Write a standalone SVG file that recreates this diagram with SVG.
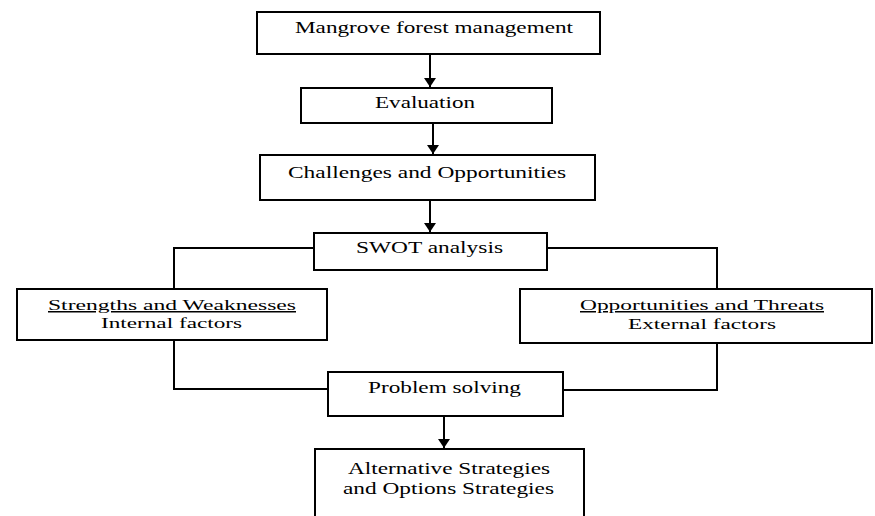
<svg xmlns="http://www.w3.org/2000/svg" width="875" height="516" viewBox="0 0 875 516">
<style>
.box{fill:#fff;stroke:#000;stroke-width:2}
.ln{fill:none;stroke:#000;stroke-width:2}
.t{font-family:"Liberation Serif","Times New Roman",serif;font-size:16px;fill:#000}
.s{font-size:15px}
.u{text-decoration:underline}
</style>
<defs>
<marker id="ah" markerUnits="userSpaceOnUse" markerWidth="10" markerHeight="12" refX="9" refY="6" orient="auto">
<path d="M0,0 L9,6 L0,12 z" fill="#000"/>
</marker>
</defs>
<rect width="875" height="516" fill="#fff"/>
<g id="connectors">
<line class="ln" x1="430" y1="54" x2="430" y2="87" marker-end="url(#ah)"/>
<line class="ln" x1="433" y1="123" x2="433" y2="154" marker-end="url(#ah)"/>
<line class="ln" x1="430" y1="200" x2="430" y2="232" marker-end="url(#ah)"/>
<polyline class="ln" points="314,248 174,248 174,289"/>
<polyline class="ln" points="547,248 717,248 717,289"/>
<polyline class="ln" points="174,340 174,389 328,389"/>
<polyline class="ln" points="717,343 717,390 563,390"/>
<line class="ln" x1="444" y1="416" x2="444" y2="448" marker-end="url(#ah)"/>
</g>
<g id="n1">
<rect class="box" x="257" y="12" width="343" height="42"/>
<text class="t" x="295" y="33" textLength="278" lengthAdjust="spacingAndGlyphs">Mangrove forest management</text>
</g>
<g id="n2">
<rect class="box" x="301" y="88" width="251" height="35"/>
<text class="t" x="375" y="108" textLength="100" lengthAdjust="spacingAndGlyphs">Evaluation</text>
</g>
<g id="n3">
<rect class="box" x="260" y="155" width="335" height="45"/>
<text class="t" x="288" y="178" textLength="278" lengthAdjust="spacingAndGlyphs">Challenges and Opportunities</text>
</g>
<g id="n4">
<rect class="box" x="314" y="233" width="233" height="37"/>
<text class="t" x="356" y="253" textLength="147" lengthAdjust="spacingAndGlyphs">SWOT analysis</text>
</g>
<g id="n5">
<rect class="box" x="17" y="289" width="310" height="51"/>
<text class="t s u" x="48" y="310" textLength="248" lengthAdjust="spacingAndGlyphs">Strengths and Weaknesses</text>
<text class="t s" x="101" y="328" textLength="141" lengthAdjust="spacingAndGlyphs">Internal factors</text>
</g>
<g id="n6">
<rect class="box" x="520" y="289" width="352" height="54"/>
<text class="t s u" x="580" y="310" textLength="244" lengthAdjust="spacingAndGlyphs">Opportunities and Threats</text>
<text class="t s" x="628" y="329" textLength="148" lengthAdjust="spacingAndGlyphs">External factors</text>
</g>
<g id="n7">
<rect class="box" x="328" y="372" width="235" height="44"/>
<text class="t" x="368" y="393" textLength="153" lengthAdjust="spacingAndGlyphs">Problem solving</text>
</g>
<g id="n8">
<rect class="box" x="315" y="449" width="269" height="90"/>
<text class="t" x="348" y="474" textLength="202" lengthAdjust="spacingAndGlyphs">Alternative Strategies</text>
<text class="t" x="343" y="494" textLength="211" lengthAdjust="spacingAndGlyphs">and Options Strategies</text>
</g>
</svg>
